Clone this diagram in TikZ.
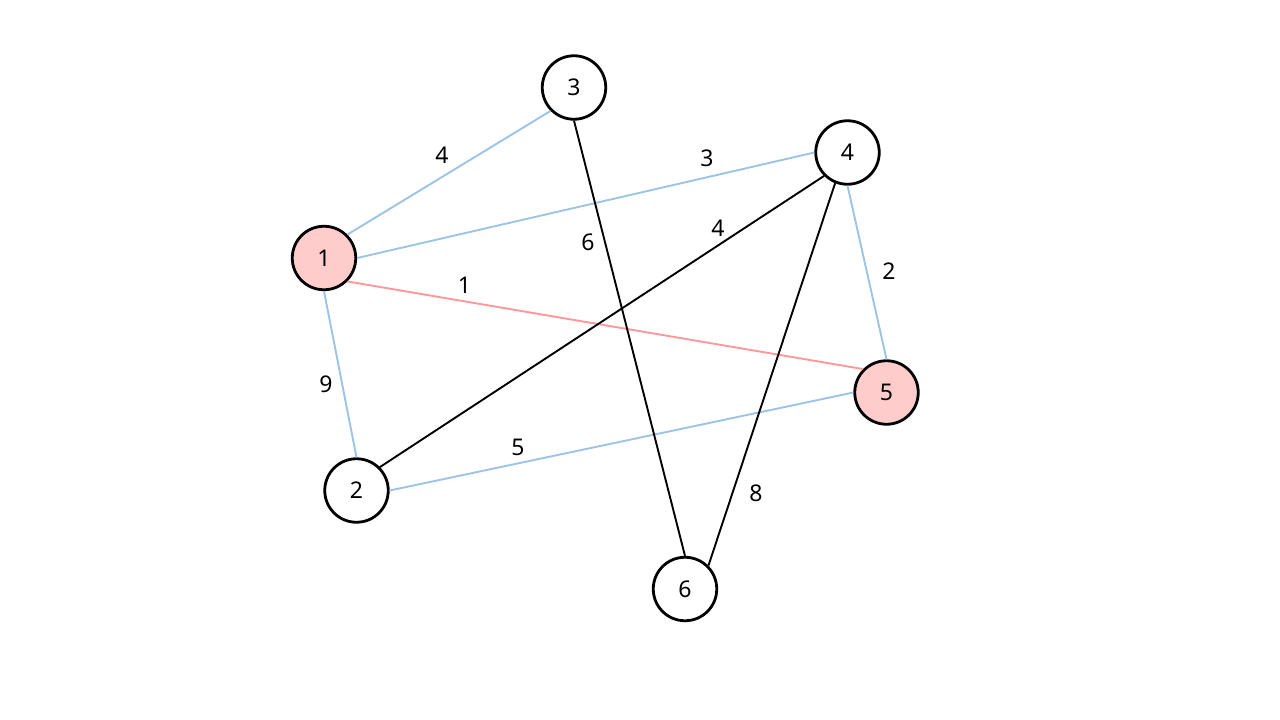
\documentclass[tikz,border=0pt]{standalone}
\usepackage{fontspec}
\setmainfont{Noto Sans}
\definecolor{nodefill}{HTML}{FFCCCC}
\definecolor{edgeblue}{HTML}{9DC3E6}
\definecolor{edgered}{HTML}{FF9999}
\begin{document}
\begin{tikzpicture}[x=1pt,y=-1pt,
  vert/.style={circle,draw=black,line width=2.8pt,minimum size=63.5pt,inner sep=0pt,fill=white,font=\fontsize{23}{27}\selectfont},
  hl/.style={fill=nodefill},
  bl/.style={draw=edgeblue,line width=1.9pt},
  rd/.style={draw=edgered,line width=1.9pt},
  bk/.style={draw=black,line width=1.9pt},
  lab/.style={font=\fontsize{23}{27}\selectfont,inner sep=0pt}]
\useasboundingbox (0,0) rectangle (1280,720);
\fill[white] (0,0) rectangle (1280,720);
\node[vert,hl] (n1) at (324,258) {1};
\node[vert] (n2) at (356.5,490.5) {2};
\node[vert] (n3) at (574,87.5) {3};
\node[vert] (n4) at (847.5,152.5) {4};
\node[vert,hl] (n5) at (886.5,392.5) {5};
\node[vert] (n6) at (685,589) {6};
\path[bl] (n1.north east) -- (n3.south west);
\path[bl] (n1.east) -- (n4.west);
\path[rd] (n1.south east) -- (n5.north west);
\path[bl] (n1.south) -- (n2.north);
\path[bl] (n2.east) -- (n5.west);
\path[bk] (n2.north east) -- (n4.south west);
\path[bk] (n3.south) -- (n6.north);
\path[bk] (n4.248) -- (n6.north east);
\path[bl] (n4.south) -- (n5.north);
\node[lab] (l13) at (442,155) {4};
\node[lab] (l14) at (707,158) {3};
\node[lab] (l36) at (588,242) {6};
\node[lab] (l24) at (718,228) {4};
\node[lab] (l15) at (464.5,285) {1};
\node[lab] (l45) at (889,271) {2};
\node[lab] (l12) at (326,384) {9};
\node[lab] (l25) at (518,447) {5};
\node[lab] (l46) at (756,493) {8};
\end{tikzpicture}
\end{document}
